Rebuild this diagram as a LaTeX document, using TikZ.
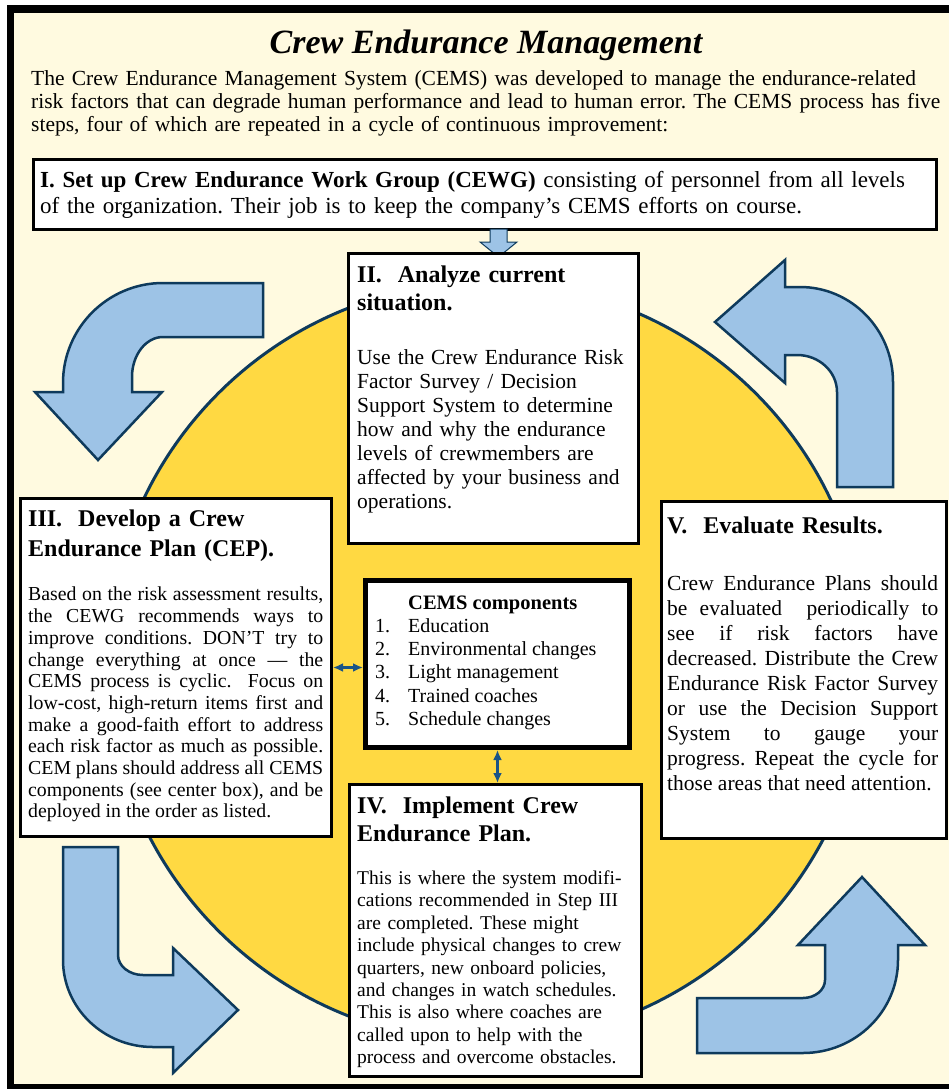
\documentclass[tikz,border=0pt]{standalone}
\usepackage{fontspec}
\setmainfont{Liberation Serif}
\usetikzlibrary{arrows.meta,calc}
\definecolor{cream}{HTML}{FFFAE0}
\definecolor{sun}{HTML}{FFD942}
\definecolor{navy}{HTML}{0E3A5C}
\definecolor{skyfill}{HTML}{9DC3E6}
\definecolor{linkblue}{HTML}{1B5486}
\newcommand{\fsz}[2]{\fontsize{#1}{#2}\selectfont}
\frenchspacing
\begin{document}
\begin{tikzpicture}[x=1pt,y=-1pt,
  stepbox/.style={draw=black,line width=3pt,fill=white,anchor=north west,inner sep=0pt},
  txt/.style={anchor=north west,inner sep=0pt},
  bendarrow/.style={fill=skyfill,draw=navy,line width=2.5pt,line join=miter},
  link/.style={draw=linkblue,line width=2.8pt,{Latex[length=10pt,width=9pt]}-{Latex[length=10pt,width=9pt]}},
]
\useasboundingbox (0,0) rectangle (948,1089);
\fill[white] (0,0) rectangle (948,1089);
\fill[cream] (7,5) rectangle (960,1095);
\draw[black,line width=7.5pt] (10.5,9) rectangle (970,1087.5);

% title and introduction
\node[anchor=base,font=\fsz{34}{38}\bfseries\itshape] (title) at (486,54) {Crew Endurance Management};
\node[txt,text width=910pt,align=left,font=\fsz{21.5}{23}] (intro) at (31,70.5) {The Crew Endurance Management System (CEMS) was developed to manage the endurance-related\\
risk factors that can degrade human performance and lead to human error. The CEMS process has five\\
steps, four of which are repeated in a cycle of continuous improvement:};

% yellow circle
\draw[navy,fill=sun,line width=3pt] (487,662) circle (380);

% curved arrows
\draw[bendarrow] (263,283) -- (163,283) .. controls (107.8,283) and (63,327.8) .. (63,383) -- (63,392) -- (35,392) -- (98,460) -- (162,392) -- (132,392) -- (132,377) .. controls (132,354.9) and (145.9,337) .. (163,337) -- (263,337) -- cycle;
\draw[bendarrow] (837,487) -- (893,487) -- (893,382) .. controls (893,329.5) and (851.4,287) .. (800,287) -- (785,287) -- (785,260) -- (715,322) -- (785,383) -- (785,355) -- (797,355) .. controls (819.1,355) and (837,371.6) .. (837,392) -- cycle;
\draw[bendarrow] (63,847) -- (118,847) -- (118,955) .. controls (118,966) and (129.2,975) .. (143,975) -- (173,975) -- (173,948) -- (238,1010) -- (173,1073) -- (173,1047) -- (153,1047) .. controls (103.3,1047) and (63,1008) .. (63,960) -- cycle;
\draw[bendarrow] (697,998) -- (803,998) .. controls (815.2,998) and (825,989.9) .. (825,980) -- (825,945) -- (798,945) -- (862,877) -- (925,945) -- (898,945) -- (898,960) .. controls (898,1011.4) and (855.5,1053) .. (803,1053) -- (697,1053) -- cycle;

% step I
\node[stepbox,minimum width=903pt,minimum height=70pt] (b1) at (32,158) {};
\node[txt,text width=895pt,align=left,font=\fsz{23}{26}] (t1) at (40,171) {\textbf{I. Set up Crew Endurance Work Group (CEWG)} consisting of personnel from all levels\\
of the organization. Their job is to keep the company's CEMS efforts on course.};
\draw[fill=skyfill,draw=navy,line width=1pt] (490,229) -- (507,229) -- (507,242) -- (517,242) -- (498.5,257) -- (480,242) -- (490,242) -- cycle;

% step II
\node[stepbox,minimum width=290pt,minimum height=290pt] (b2) at (347,252) {};
\node[txt,text width=280pt,align=left,font=\fsz{24}{28}\bfseries] (h2) at (357,265.5) {II.~~Analyze current\\situation.};
\node[txt,text width=280pt,align=left,font=\fsz{21.5}{24}] (t2) at (357,349) {Use the Crew Endurance Risk\\
Factor Survey / Decision\\
Support System to determine\\
how and why the endurance\\
levels of crewmembers are\\
affected by your business and\\
operations.};

% step III
\node[stepbox,minimum width=311pt,minimum height=338pt] (b3) at (19,497) {};
\node[txt,text width=295pt,align=left,font=\fsz{24}{30}\bfseries] (h3) at (28,509.5) {III.~~Develop a Crew\\Endurance Plan (CEP).};
\node[txt,text width=295pt,align=justify,font=\fsz{19.8}{21.7}] (t3) at (28,587) {Based on the risk assessment results,\linebreak
the CEWG recommends ways to\linebreak
improve conditions. DON'T try to\linebreak
change everything at once --- the\linebreak
CEMS process is cyclic.\ \ Focus on\linebreak
low-cost, high-return items first and\linebreak
make a good-faith effort to address\linebreak
each risk factor as much as possible.\linebreak
CEM plans should address all CEMS\linebreak
components (see center box), and be\linebreak
deployed in the order as listed.};

% step V
\node[stepbox,minimum width=285pt,minimum height=337pt] (b5) at (660,500) {};
\node[txt,text width=271pt,align=left,font=\fsz{24}{28}\bfseries] (h5) at (667,516.5) {V.~~Evaluate Results.};
\node[txt,text width=271pt,align=justify,font=\fsz{21.5}{25}] (t5) at (667,575) {Crew Endurance Plans should\linebreak
be evaluated\ \ periodically to\linebreak
see if risk factors have\linebreak
decreased. Distribute the Crew\linebreak
Endurance Risk Factor Survey\linebreak
or use the Decision Support\linebreak
System to gauge your\linebreak
progress. Repeat the cycle for\linebreak
those areas that need attention.};

% step IV
\node[stepbox,minimum width=292pt,minimum height=292pt] (b4) at (348,783) {};
\node[txt,text width=280pt,align=left,font=\fsz{24}{28}\bfseries] (h4) at (357,796.5) {IV.~~Implement Crew\\Endurance Plan.};
\node[txt,text width=280pt,align=left,font=\fsz{19.5}{22.4}] (t4) at (357,870.5) {This is where the system modifi-\\
cations recommended in Step III\\
are completed. These might\\
include physical changes to crew\\
quarters, new onboard policies,\\
and changes in watch schedules.\\
This is also where coaches are\\
called upon to help with the\\
process and overcome obstacles.};

% centre box
\node[stepbox,line width=5pt,minimum width=264pt,minimum height=167pt] (cbox) at (363,578) {};
\node[txt,font=\fsz{20}{23.3}] (ct) at (375,592.5) {\begin{tabular}{@{}p{33pt}@{}l@{}}
 & \textbf{\fontsize{20.5}{23.3}\selectfont CEMS components}\\
1. & Education\\
2. & Environmental changes\\
3. & Light management\\
4. & Trained coaches\\
5. & Schedule changes
\end{tabular}};

% connectors
\draw[link] (b3.east) -- (b3.east -| cbox.west);
\draw[link] (cbox.south) -- (cbox.south |- b4.north);
\end{tikzpicture}
\end{document}
